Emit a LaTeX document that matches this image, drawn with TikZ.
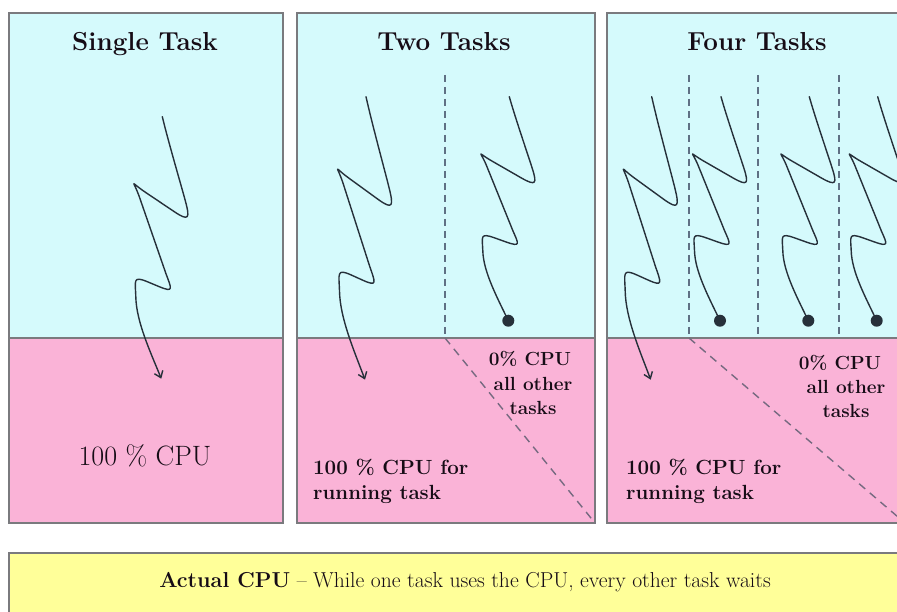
\documentclass[tikz,border=0pt]{standalone}
\usetikzlibrary{arrows.meta}
\definecolor{cyanbg}{RGB}{213,250,252}
\definecolor{pinkbg}{RGB}{250,179,215}
\definecolor{yellowbg}{RGB}{255,255,153}
\definecolor{bordc}{RGB}{122,122,126}
\definecolor{squigc}{RGB}{38,48,58}
\definecolor{dashv}{RGB}{95,112,132}
\definecolor{dashd}{RGB}{118,106,128}
\definecolor{txtc}{RGB}{22,12,22}
\tikzset{
  panelborder/.style={draw=bordc, line width=1.8pt},
  squigline/.style={draw=squigc, line width=1.4pt, line cap=round, line join=round},
  vdash/.style={draw=dashv, line width=1.4pt, dash pattern=on 7pt off 5pt},
  ddash/.style={draw=dashd, line width=1.4pt, dash pattern=on 8pt off 6pt},
  ttl/.style={anchor=base, inner sep=0pt, text=txtc, font=\bfseries\fontsize{26}{30}\selectfont},
  bigcpu/.style={anchor=base, inner sep=0pt, text=txtc, font=\fontsize{28}{32}\selectfont},
  runlab/.style={anchor=base west, inner sep=0pt, text=txtc, font=\bfseries\fontsize{20.5}{25}\selectfont},
  zerolab/.style={anchor=base, inner sep=0pt, text=txtc, font=\bfseries\fontsize{19}{24}\selectfont},
  footlab/.style={anchor=base, inner sep=0pt, text=txtc, font=\fontsize{21.6}{26}\selectfont},
  squigpath/.pic={
    \coordinate (-end) at (-1,262);
    \draw[squigline, pic actions] (0,0) .. controls (6,25) and (19.1,69.5) .. (23,84)
      .. controls (27.7,101.5) and (27,105) .. (12,95)
      -- (-17,75.5)
      .. controls (-32.8,64.9) and (-29.5,62.1) .. (-23,80)
      -- (3.7,157.1)
      .. controls (9.3,172.1) and (11.7,176.1) .. (-3,170)
      -- (-15,165)
      .. controls (-29.7,158.9) and (-27,164) .. (-26.5,180)
      .. controls (-26,205) and (-12,235) .. (-1,262);
  },
  arrowsq/.style={-{Straight Barb[length=6pt,width=9pt]}},
}
\begin{document}
\begin{tikzpicture}[x=1pt,y=-1pt]
\useasboundingbox (0,0) rectangle (897,612);
\clip (0,0) rectangle (897,612);
\fill[white] (0,0) rectangle (897,612);

% ---------- panels ----------
\foreach \xa/\xb in {9/283, 297/595, 607/905}{
  \fill[cyanbg] (\xa,13) rectangle (\xb,338);
  \fill[pinkbg] (\xa,338) rectangle (\xb,523);
  \draw[panelborder] (\xa,338) -- (\xb,338);
  \draw[panelborder] (\xa,13) rectangle (\xb,523);
}

% ---------- bottom box ----------
\fill[yellowbg] (9,553) rectangle (905,640);
\draw[panelborder] (9,553) rectangle (905,640);
\node[footlab] (foot) at (465,587) {\textbf{Actual CPU} -- While one task uses the CPU, every other task waits};

% ---------- dashed separators ----------
\coordinate (d2t) at (445,75);  \coordinate (d2m) at (445,338); \coordinate (d2b) at (595,523);
\coordinate (d3t) at (689,75);  \coordinate (d3m) at (689,338); \coordinate (d3b) at (905,523);
\coordinate (d4t) at (758,75);  \coordinate (d4m) at (758,338);
\coordinate (d5t) at (839,75);  \coordinate (d5m) at (839,338);
\draw[vdash] (d2t) -- (d2m);
\draw[vdash] (d3t) -- (d3m);
\draw[vdash] (d4t) -- (d4m);
\draw[vdash] (d5t) -- (d5m);
\draw[ddash] (d2m) -- (d2b);
\draw[ddash] (d3m) -- (d3b);

% ---------- squiggles ----------
\pic[arrowsq] (s1) at (162.3,116.7) {squigpath};
\pic[arrowsq, yscale=1.08] (s2a) at (366,96.7) {squigpath};
\pic[yscale=0.855] (s2b) at (509.3,96.7) {squigpath};
\pic[arrowsq, yscale=1.08] (s3a) at (651.7,96.7) {squigpath};
\pic[yscale=0.855] (s3b) at (721,96.7) {squigpath};
\pic[yscale=0.855] (s3c) at (809.3,96.7) {squigpath};
\pic[yscale=0.855] (s3d) at (877.7,96.7) {squigpath};
\foreach \p in {s2b,s3b,s3c,s3d}{
  \fill[squigc] (\p-end) circle[radius=6pt];
}

% ---------- titles ----------
\node[ttl] (t1) at (145,51) {Single Task};
\node[ttl] (t2) at (444,51) {Two Tasks};
\node[ttl] (t3) at (757,51) {Four Tasks};

% ---------- CPU labels ----------
\node[bigcpu] (c1) at (145,465) {100 \% CPU};

\node[runlab] (r2a) at (313,474) {100 \% CPU for};
\node[runlab] (r2b) at (313,499) {running task};
\node[runlab] (r3a) at (626,474) {100 \% CPU for};
\node[runlab] (r3b) at (626,499) {running task};

\node[zerolab] (z2a) at (530,366) {0\% CPU};
\node[zerolab] (z2b) at (533,390) {all other};
\node[zerolab] (z2c) at (533,414) {tasks};
\node[zerolab] (z3a) at (840,369) {0\% CPU};
\node[zerolab] (z3b) at (846,393) {all other};
\node[zerolab] (z3c) at (846,417) {tasks};
\end{tikzpicture}
\end{document}
